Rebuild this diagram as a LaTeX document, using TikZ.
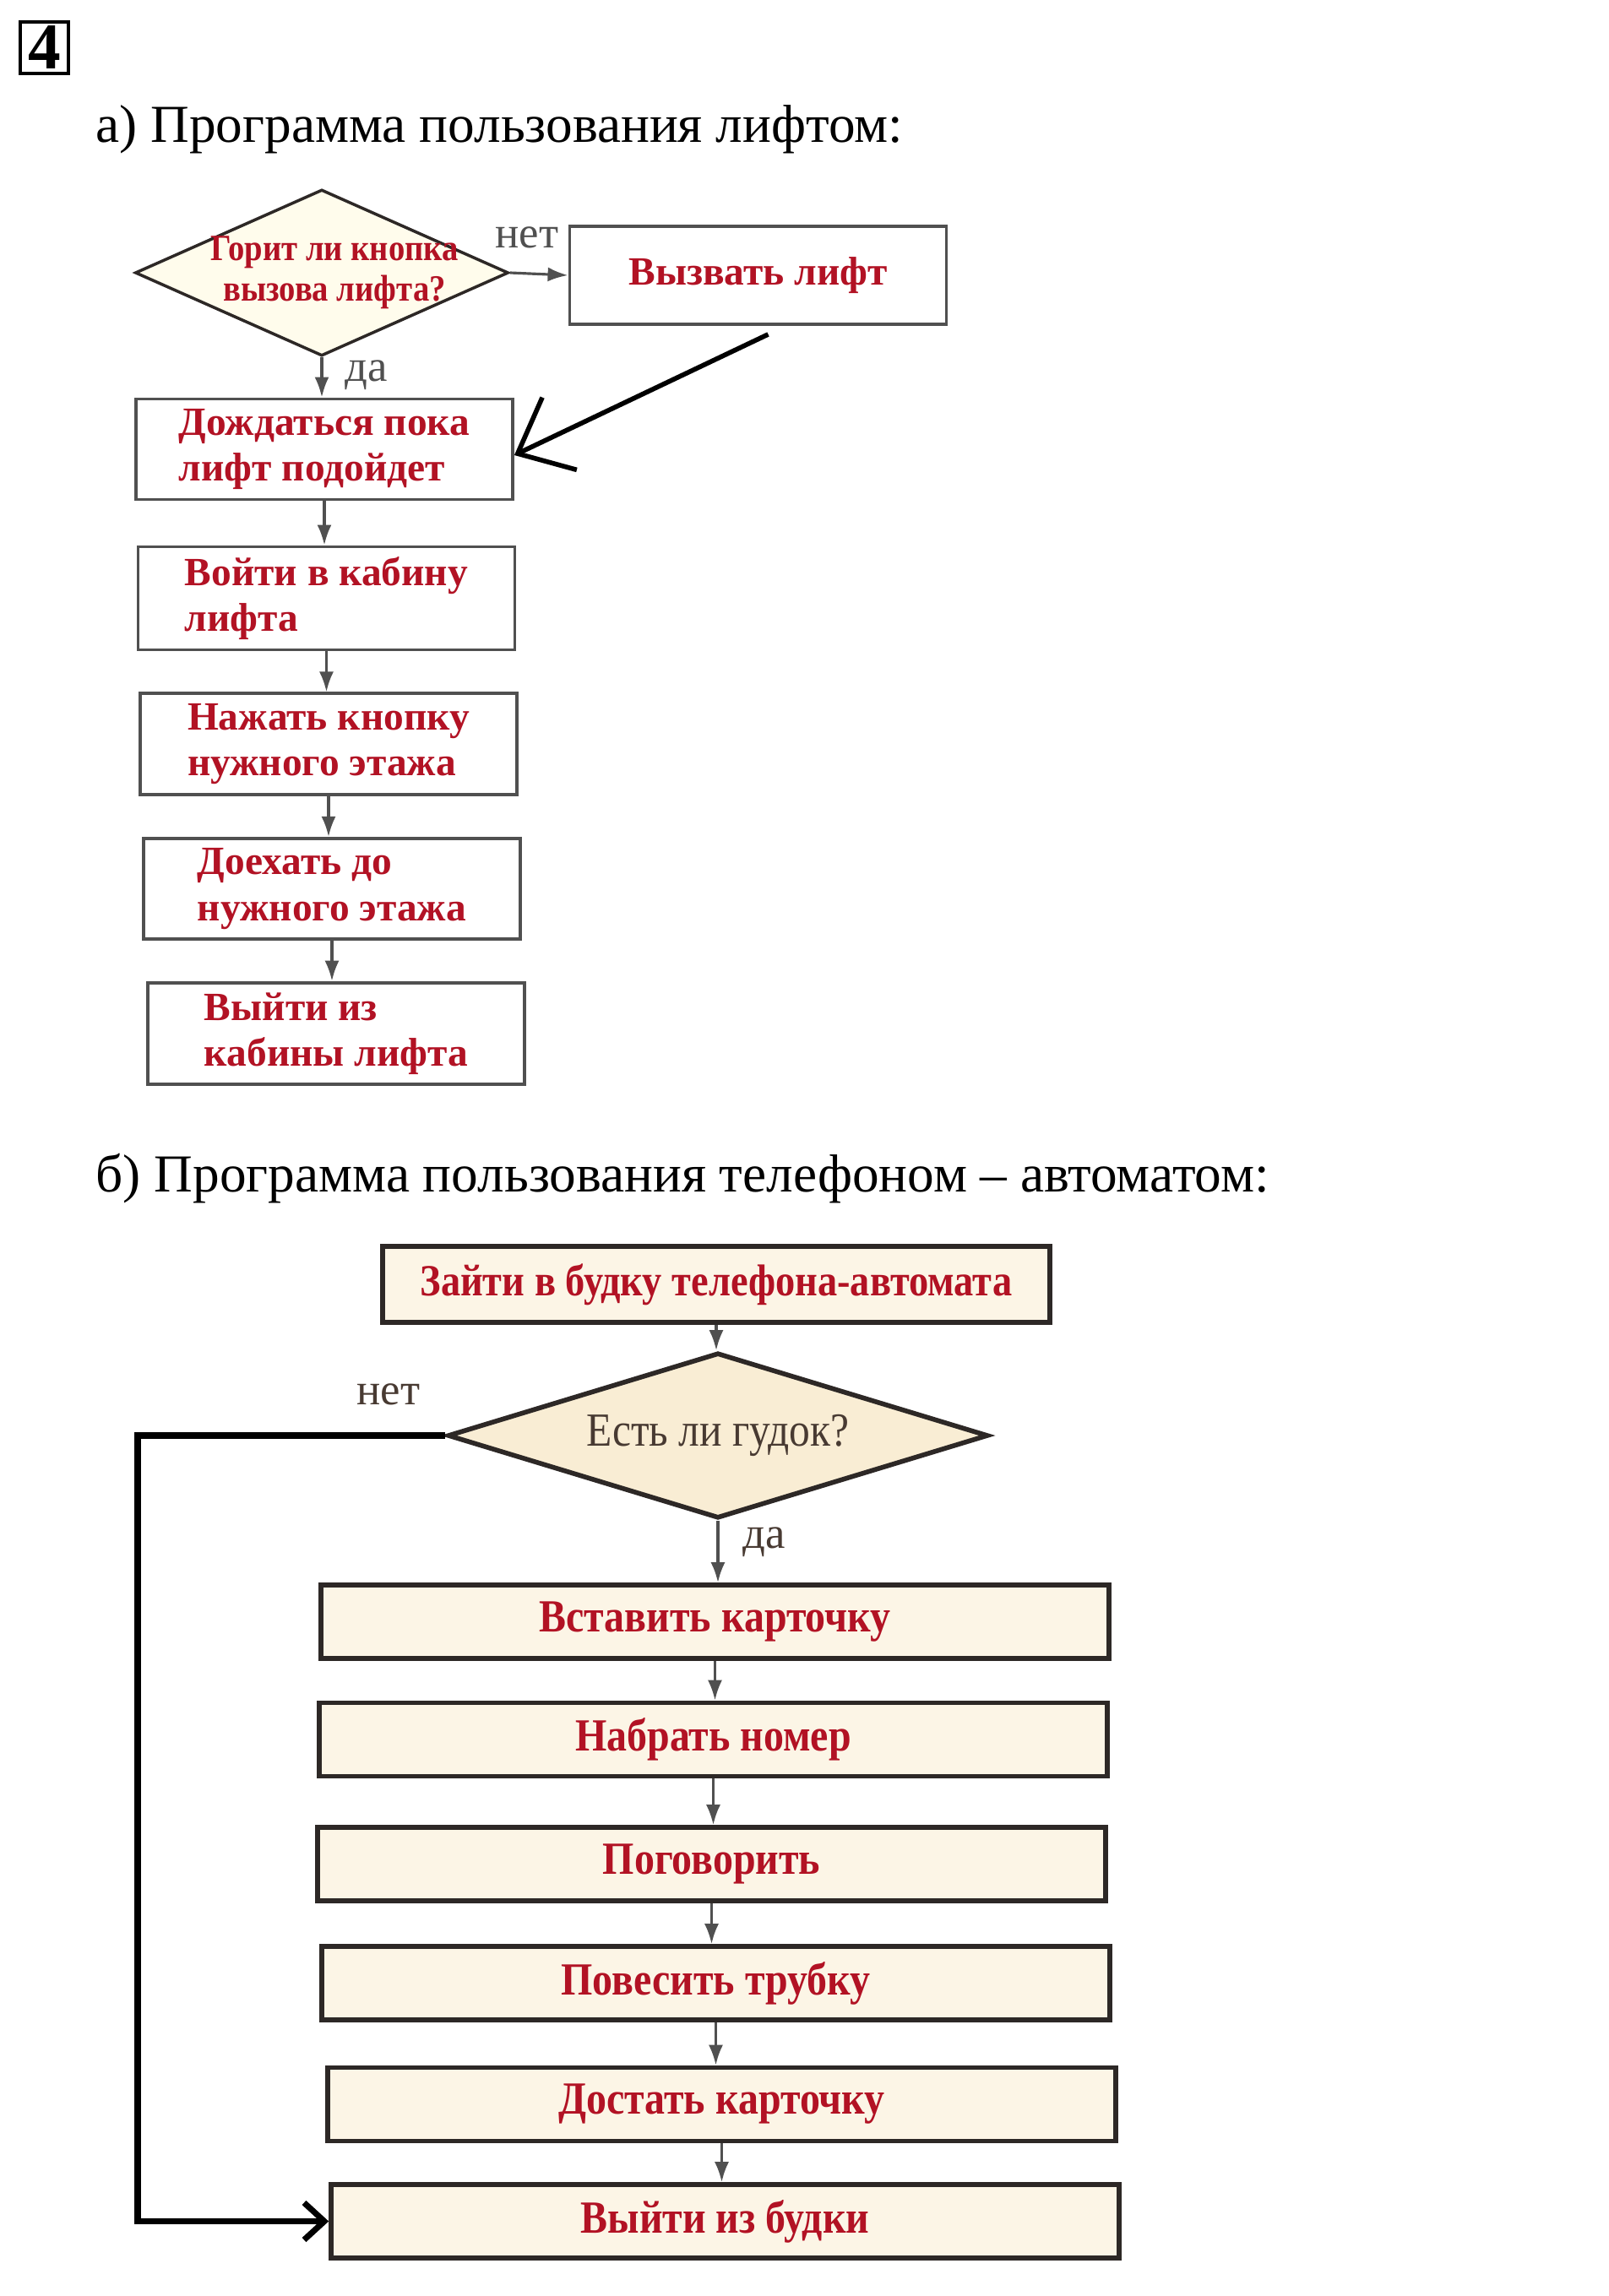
\documentclass[tikz,border=0pt]{standalone}
\usepackage{fontspec}
\setmainfont{Liberation Serif}
\newfontfamily\narrowfont[FakeStretch=0.88]{Liberation Serif}
\usetikzlibrary{positioning,arrows,arrows.meta,shapes,calc}

\definecolor{inkred}{RGB}{178,18,36}
\definecolor{framegray}{RGB}{80,80,80}
\definecolor{framedark}{RGB}{45,40,38}
\definecolor{arrowgray}{RGB}{80,80,80}
\definecolor{paleyellow}{RGB}{255,252,236}
\definecolor{cream}{RGB}{252,245,230}
\definecolor{creamdeep}{RGB}{249,237,212}
\definecolor{inkbrown}{RGB}{72,58,50}

\begin{document}
\begin{tikzpicture}[
  stepA/.style={draw=framegray,line width=1.1pt,fill=white,minimum width=4.46cm,minimum height=1.16cm,align=left,text=inkred,font=\bfseries\fontsize{13.5}{15.5}\selectfont},
  stepB/.style={draw=framedark,line width=1.6pt,fill=cream,minimum width=9.33cm,minimum height=0.87cm,text=inkred,font=\narrowfont\bfseries\fontsize{15.5}{18}\selectfont},
  ask/.style={diamond,draw=framedark,inner sep=0pt},
  flow/.style={-{Latex[length=0.24cm,width=0.17cm]},draw=arrowgray,line width=0.9pt},
  note/.style={text=arrowgray,font=\fontsize{15}{18}\selectfont},
  heading/.style={anchor=west,inner sep=0pt,font=\fontsize{18}{22}\selectfont}]
\useasboundingbox (0,0) rectangle (19.04,-27.19);

% number of the exercise
\node[draw,line width=1.4pt,minimum width=0.57cm,minimum height=0.61cm,inner sep=0pt,font=\bfseries\fontsize{22}{24}\selectfont] (num) at (0.525,-0.565) {4};

% a) lift
\node[heading] (titleA) at (1.13,-1.53) {а) Программа пользования лифтом:};

\node[ask,line width=1pt,fill=paleyellow,minimum width=4.42cm,minimum height=1.97cm] (lit) at (3.81,-3.23) {};
\node[align=center,text=inkred,font=\narrowfont\bfseries\fontsize{12.5}{13.5}\selectfont] (litText) at ([xshift=0.15cm]lit) {Горит ли кнопка\\вызова лифта?};
\node[stepA] (call) at (8.975,-3.26) {Вызвать лифт};
\node[stepA] (wait) at (3.84,-5.32) {Дождаться пока\\лифт подойдет};
\node[stepA] (enter) at (3.865,-7.085) {Войти в кабину\\лифта};
\node[stepA] (press) at (3.89,-8.81) {Нажать кнопку\\нужного этажа};
\node[stepA] (ride) at (3.93,-10.525) {Доехать до\\нужного этажа};
\node[stepA] (leave) at (3.98,-12.24) {Выйти из\\кабины лифта};

\node[note] (noA) at (6.24,-2.81) {нет};
\node[note] (yesA) at (4.34,-4.44) {да};

\draw[flow] (lit.east) -- (call.west);
\draw[flow] (lit.south) -- (lit.south |- wait.north);
\draw[line width=1.6pt,-{Straight Barb[length=0.55cm,width=0.95cm,line width=1.6pt]}] ([xshift=0.12cm,yshift=-0.1cm]call.south) -- ([yshift=-0.07cm]wait.east);
\draw[flow] (wait.south) -- (wait.south |- enter.north);
\draw[flow] (enter.south) -- (enter.south |- press.north);
\draw[flow] (press.south) -- (press.south |- ride.north);
\draw[flow] (ride.south) -- (ride.south |- leave.north);

% b) pay phone
\node[heading] (titleB) at (1.13,-13.96) {б) Программа пользования телефоном – автоматом:};

\node[stepB,minimum width=7.9cm,minimum height=0.9cm,font=\narrowfont\bfseries\fontsize{15}{18}\selectfont] (booth) at (8.48,-15.21) {Зайти в будку телефона-автомата};
\node[ask,line width=1.6pt,fill=creamdeep,minimum width=6.4cm,minimum height=1.96cm] (tone) at (8.5,-17.0) {};
\node[text=inkbrown,font=\narrowfont\fontsize{16}{18}\selectfont] (toneText) at (tone) {Есть ли гудок?};
\node[stepB] (insert) at (8.465,-19.205) {Вставить карточку};
\node[stepB] (dial) at (8.445,-20.6) {Набрать номер};
\node[stepB] (talk) at (8.425,-22.075) {Поговорить};
\node[stepB] (hangup) at (8.475,-23.485) {Повесить трубку};
\node[stepB] (take) at (8.545,-24.92) {Достать карточку};
\node[stepB] (exit) at (8.585,-26.305) {Выйти из будки};

\node[note,text=inkbrown] (noB) at (4.6,-16.51) {нет};
\node[note,text=inkbrown] (yesB) at (9.05,-18.26) {да};

\draw[flow] (booth.south) -- (booth.south |- tone.north);
\draw[flow] (tone.south) -- (tone.south |- insert.north);
\draw[flow] (insert.south) -- (insert.south |- dial.north);
\draw[flow] (dial.south) -- (dial.south |- talk.north);
\draw[flow] (talk.south) -- (talk.south |- hangup.north);
\draw[flow] (hangup.south) -- (hangup.south |- take.north);
\draw[flow] (take.south) -- (take.south |- exit.north);
\draw[line width=2.2pt,-{Straight Barb[length=0.24cm,width=0.44cm,line width=2pt]}] (tone.west) -- ++(-3.64,0) |- (exit.west);
\end{tikzpicture}
\end{document}
